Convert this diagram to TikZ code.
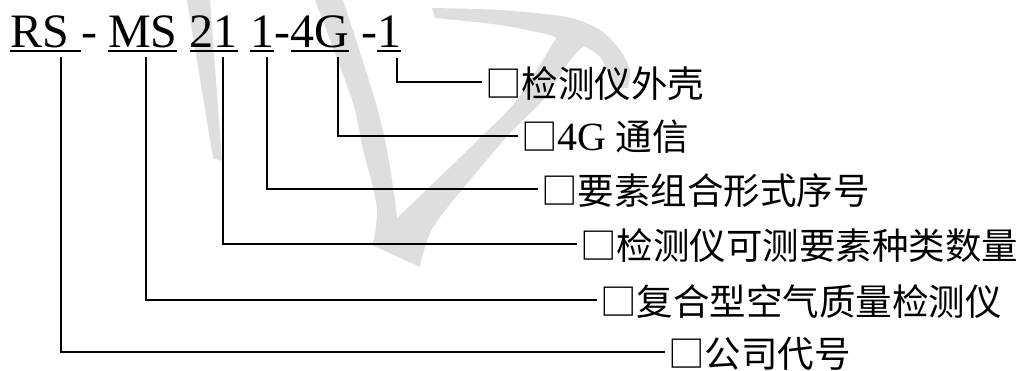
\documentclass[tikz,border=0pt]{standalone}
\usepackage{fontspec}
\setmainfont{Liberation Serif}
\newfontfamily\cjk{Noto Sans CJK SC}
\definecolor{wm}{RGB}{222,222,222}
\tikzset{
  codeseg/.style={inner sep=0pt, outer sep=0pt, anchor=base west, font=\fontsize{48}{56}\selectfont},
  uline/.style={line width=2.4pt},
  conn/.style={line width=1.9pt, line join=miter},
  lbl/.style={anchor=west, inner xsep=3pt, inner ysep=0pt, outer sep=0pt,
    text height=34pt, text depth=4pt, font=\fontsize{36.5}{40}\selectfont},
  latl/.style={}
}
\newcommand{\latbig}[1]{{\fontsize{40}{40}\selectfont #1}}
\begin{document}
\begin{tikzpicture}[x=1pt,y=-1pt]
\useasboundingbox (0,0) rectangle (1029,370);
% watermark
\fill[wm] (187,0) -- (210,0) -- (222,161) -- (213,158) -- cycle;
\fill[wm] plot[smooth] coordinates {(315,0) (352,100) (363,150) (372,183) (377,210) (375,233) (372,245)}
  -- plot[smooth] coordinates {(420,267) (422,257) (430,233) (443,213) (470,180) (510,133) (543,100) (566,66) (577,52)}
  -- plot[smooth] coordinates {(584,46) (600,57) (610,77) (614,88)}
  -- plot[smooth] coordinates {(628,88) (630,70) (620,50) (600,30) (567,17) (500,10) (432,8)}
  -- plot[smooth] coordinates {(435,18) (500,25) (550,35) (556,39)}
  -- plot[smooth] coordinates {(553,43) (517,100) (478,140) (397,218)}
  -- plot[smooth] coordinates {(395,200) (387,150) (375,100) (343,0)}
  -- cycle;
% code line
\node[codeseg] (RS) at (10,47) {RS\kern12pt};
\node[codeseg] (h1) at (81,47) {-};
\node[codeseg] (MS) at (108,47) {MS};
\node[codeseg] (n21) at (189.5,47) {21};
\node[codeseg] (n1) at (250,47) {1};
\node[codeseg] (h2) at (274,47) {-};
\node[codeseg] (n4G) at (290.5,47) {4G};
\node[codeseg] (h3) at (361,47) {-};
\node[codeseg] (nl) at (377,47) {1};
\foreach \s in {RS,MS,n21,n1,n4G,nl}
  \draw[uline] ([yshift=-3.7pt]\s.base west) -- ([yshift=-3.7pt]\s.base east);
% labels
\node[lbl] (L6) at (482,82) {\cjk □检测仪外壳};
\node[lbl] (L5) at (518,135.7) {{\cjk □}\latbig{4G} {\cjk 通信}};
\node[lbl] (L4) at (538,189) {\cjk □要素组合形式序号};
\node[lbl] (L3) at (577,244) {\cjk □检测仪可测要素种类数量};
\node[lbl] (L2) at (597,300) {\cjk □复合型空气质量检测仪};
\node[lbl] (L1) at (665,352.3) {\cjk □公司代号};
% connector tops
\coordinate (t1) at (60.7,57);
\coordinate (t2) at (145.7,57);
\coordinate (t3) at (223,57);
\coordinate (t4) at (266.7,57);
\coordinate (t5) at (337.7,57);
\coordinate (t6) at (396.7,58);
\draw[conn] (t1) |- (L1.west);
\draw[conn] (t2) |- (L2.west);
\draw[conn] (t3) |- (L3.west);
\draw[conn] (t4) |- (L4.west);
\draw[conn] (t5) |- (L5.west);
\draw[conn] (t6) |- (L6.west);
\end{tikzpicture}
\end{document}
